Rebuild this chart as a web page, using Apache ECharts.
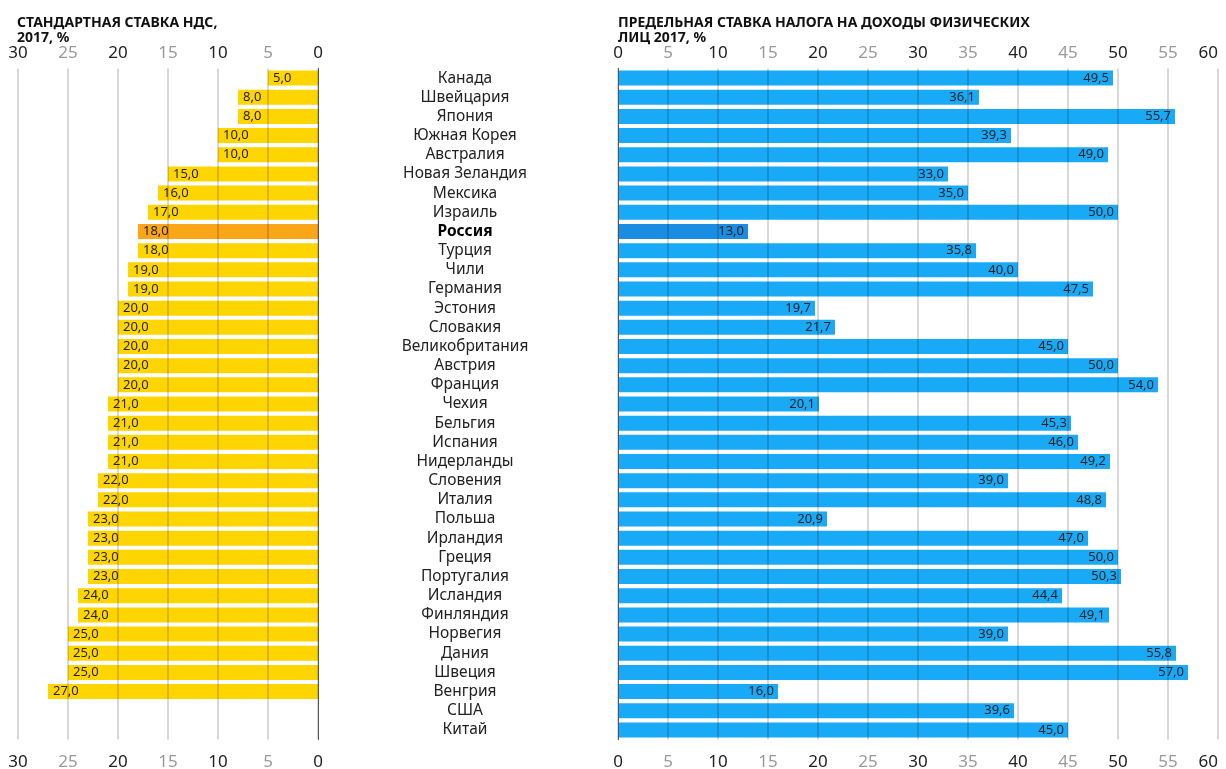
<!DOCTYPE html>
<html>
<head>
<meta charset="utf-8">
<script src="https://cdn.jsdelivr.net/npm/echarts@6/dist/echarts.min.js"></script>
<style>
  html, body { margin: 0; padding: 0; background: #fff; }
  #chart { width: 1226px; height: 769px; }
</style>
</head>
<body>
<div id="chart"></div>
<script>
var countries = ['Канада', 'Швейцария', 'Япония', 'Южная Корея', 'Австралия', 'Новая Зеландия',
    'Мексика', 'Израиль', 'Россия', 'Турция', 'Чили', 'Германия', 'Эстония', 'Словакия',
    'Великобритания', 'Австрия', 'Франция', 'Чехия', 'Бельгия', 'Испания', 'Нидерланды',
    'Словения', 'Италия', 'Польша', 'Ирландия', 'Греция', 'Португалия', 'Исландия',
    'Финляндия', 'Норвегия', 'Дания', 'Швеция', 'Венгрия', 'США', 'Китай'];

// standard VAT rate, % (no value for США, Китай)
var vat = [5, 8, 8, 10, 10, 15, 16, 17, 18, 18, 19, 19, 20, 20, 20, 20, 20, 21, 21, 21, 21,
    22, 22, 23, 23, 23, 23, 24, 24, 25, 25, 25, 27, null, null];

// top personal income tax rate, %
var pit = [49.5, 36.1, 55.7, 39.3, 49.0, 33.0, 35.0, 50.0, 13.0, 35.8, 40.0, 47.5, 19.7, 21.7,
    45.0, 50.0, 54.0, 20.1, 45.3, 46.0, 49.2, 39.0, 48.8, 20.9, 47.0, 50.0, 50.3, 44.4,
    49.1, 39.0, 55.8, 57.0, 16.0, 39.6, 45.0];

var highlight = 'Россия';

var fmt = function (v) { return v.toFixed(1).replace('.', ','); };
var tickColor = function (v) { return (+v % 10 === 0) ? '#222' : '#9a9a9a'; };

var chart = echarts.init(document.getElementById('chart'));

function valueAxis(grid, pos, max, inverse) {
    return {
        type: 'value', gridIndex: grid, position: pos, min: 0, max: max, interval: 5,
        inverse: inverse, z: 10,
        axisLine: { show: false }, axisTick: { show: false },
        axisLabel: {
            show: true, margin: pos === 'top' ? 7 : 14,
            alignMaxLabel: inverse ? null : 'right',
            fontFamily: 'Noto Sans', fontSize: 17, color: tickColor
        },
        splitLine: { show: pos === 'top', lineStyle: { color: 'rgba(0,0,0,0.2)', width: 1.5 } }
    };
}

var titleStyle = { fontFamily: 'Noto Sans', fontSize: 14, fontWeight: 'bold', color: '#111', lineHeight: 15 };

var option = {
    animation: false,
    backgroundColor: '#fff',
    title: [
        { text: 'СТАНДАРТНАЯ СТАВКА НДС,\n2017, %', left: 12, top: 11, textStyle: titleStyle },
        { text: 'ПРЕДЕЛЬНАЯ СТАВКА НАЛОГА НА ДОХОДЫ ФИЗИЧЕСКИХ\nЛИЦ 2017, %', left: 613, top: 11, textStyle: titleStyle }
    ],
    grid: [
        { left: 18, right: 908, top: 68.5, bottom: 29.5, outerBoundsMode: 'none' },
        { left: 618, right: 8, top: 68.5, bottom: 29.5, outerBoundsMode: 'none' }
    ],
    xAxis: [
        valueAxis(0, 'top', 30, true),
        valueAxis(0, 'bottom', 30, true),
        valueAxis(1, 'top', 60, false),
        valueAxis(1, 'bottom', 60, false)
    ],
    yAxis: [
        {
            type: 'category', gridIndex: 0, data: countries, inverse: true, position: 'right', z: 10,
            axisLine: { show: true, lineStyle: { color: '#555', width: 1 } },
            axisTick: { show: false }, axisLabel: { show: false }
        },
        {
            type: 'category', gridIndex: 1, data: countries, inverse: true, position: 'left', z: 10,
            axisLine: { show: true, lineStyle: { color: '#555', width: 1 } },
            axisTick: { show: false },
            axisLabel: {
                interval: 0, margin: 153, align: 'center', fontFamily: 'Noto Sans', fontSize: 15.5, color: '#222',
                formatter: function (v) { return v === highlight ? '{b|' + v + '}' : v; },
                rich: { b: { fontFamily: 'Noto Sans', fontSize: 15.5, fontWeight: 'bold', color: '#000' } }
            }
        }
    ],
    series: [
        {
            type: 'bar', xAxisIndex: 0, yAxisIndex: 0, barWidth: 15,
            data: vat.map(function (v, i) {
                return { value: v, itemStyle: { color: countries[i] === highlight ? '#fba518' : '#ffd500' } };
            }),
            label: {
                show: true, position: 'insideLeft', distance: 5,
                fontFamily: 'Noto Sans', fontSize: 13, color: '#222',
                formatter: function (p) { return p.value == null ? '' : fmt(p.value); }
            }
        },
        {
            type: 'bar', xAxisIndex: 2, yAxisIndex: 1, barWidth: 15,
            data: pit.map(function (v, i) {
                return { value: v, itemStyle: { color: countries[i] === highlight ? '#1a8ce2' : '#18aaf6' } };
            }),
            label: {
                show: true, position: 'insideRight', distance: 4,
                fontFamily: 'Noto Sans', fontSize: 13, color: '#222',
                formatter: function (p) { return fmt(p.value); }
            }
        }
    ]
};

chart.setOption(option);
</script>
</body>
</html>
